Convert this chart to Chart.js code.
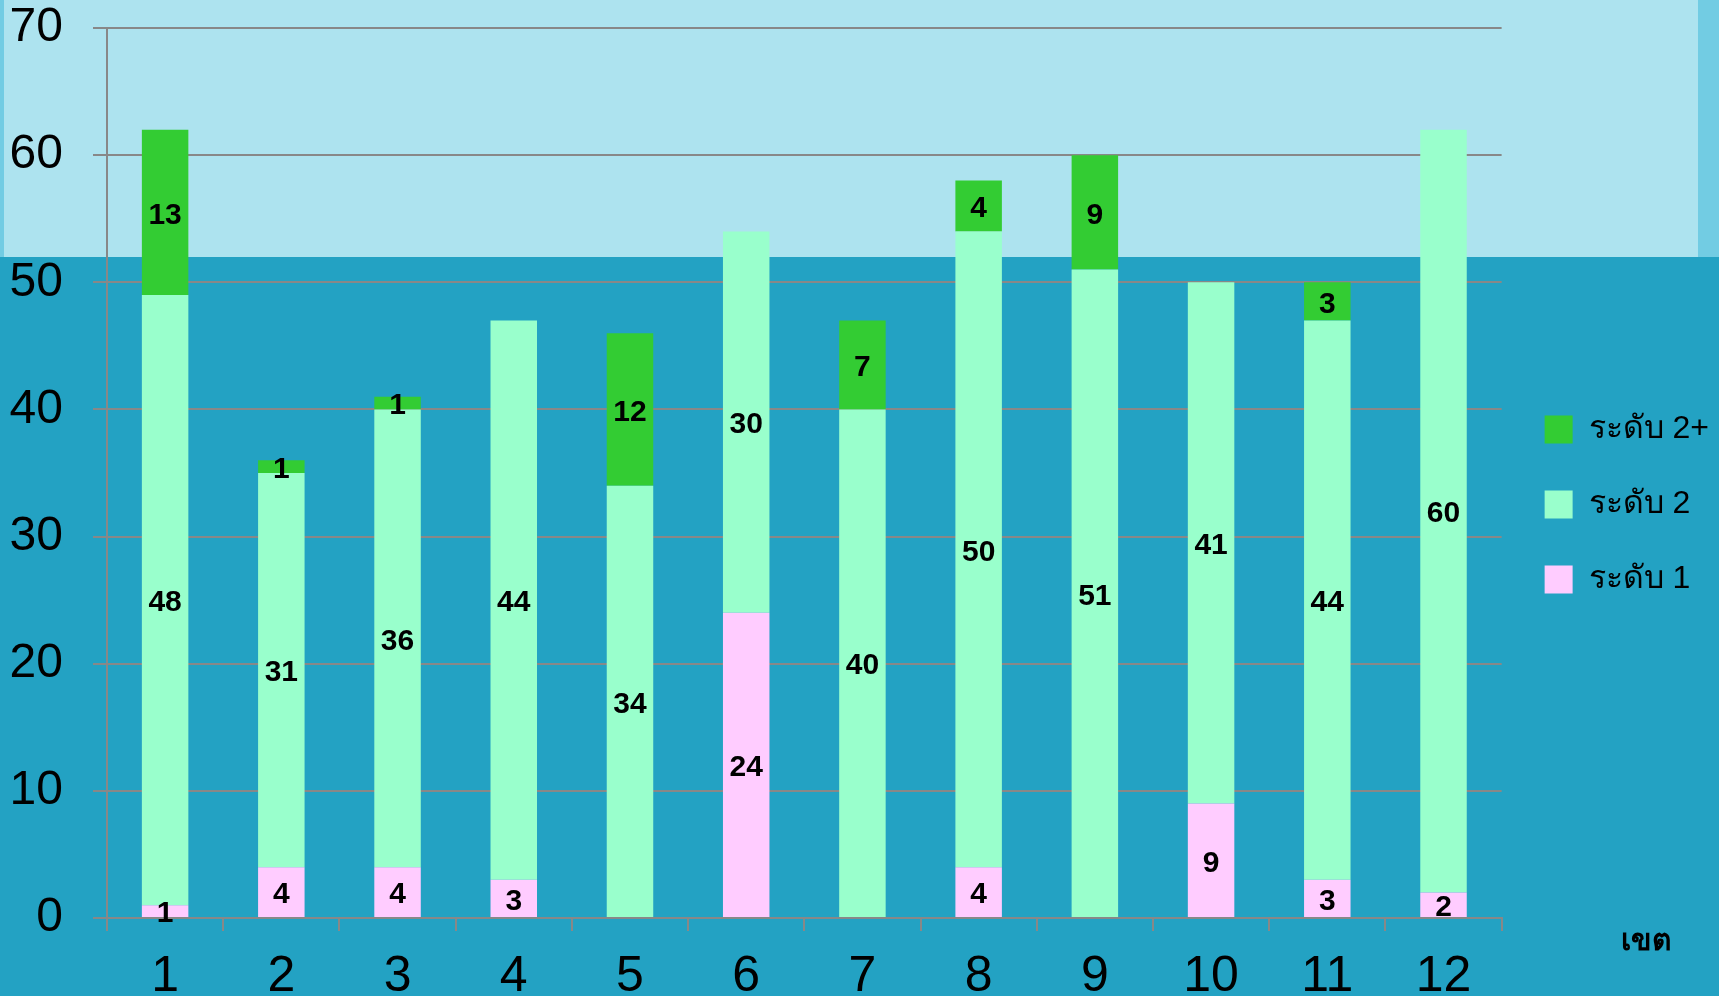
<!DOCTYPE html>
<html>
<head>
<meta charset="utf-8">
<script src="https://cdn.jsdelivr.net/npm/chart.js@4"></script>
<style>
  html, body { margin: 0; padding: 0; }
  body { width: 1719px; height: 996px; position: relative; overflow: hidden; background: #23a2c3; }
  .band { position: absolute; left: 0; top: 0; width: 1719px; height: 257px; background: #ade3ef; }
  .edge { position: absolute; top: 0; height: 257px; background: #72cce3; }
  #chart { position: absolute; left: 0; top: 0; }
</style>
</head>
<body>
<div class="band"></div>
<div class="edge" style="left:0;width:4px"></div>
<div class="edge" style="left:1698px;width:21px"></div>
<canvas id="chart" width="1719" height="996"></canvas>
<script>
// เขต 1-12
const districts = ["1", "2", "3", "4", "5", "6", "7", "8", "9", "10", "11", "12"];
const level1 = [1, 4, 4, 3, 0, 24, 0, 4, 0, 9, 3, 2];
const level2 = [48, 31, 36, 44, 34, 30, 40, 50, 51, 41, 44, 60];
const level2plus = [13, 1, 1, 0, 12, 0, 7, 4, 9, 0, 3, 0];
const yTicks = [0, 10, 20, 30, 40, 50, 60, 70];

const font = "'Liberation Sans', Arial, 'Noto Sans', sans-serif";

/* draws the number inside each segment, skips the zeros */
const segmentLabels = {
    id: "segmentLabels",
    afterDatasetsDraw(chart) {
        const ctx = chart.ctx;
        ctx.save();
        ctx.font = "bold 30px " + font;
        ctx.fillStyle = "#000";
        ctx.textAlign = "center";
        ctx.textBaseline = "middle";
        chart.data.datasets.forEach((ds, i) => {
            const meta = chart.getDatasetMeta(i);
            meta.data.forEach((bar, j) => {
                const v = ds.data[j];
                if (!v) return;
                ctx.fillText(String(v), bar.x, (bar.y + bar.base) / 2 + 3);
            });
        });
        ctx.restore();
    }
};

/* "เขต" under the right end of the axis */
const axisName = {
    id: "axisName",
    afterDraw(chart) {
        const ctx = chart.ctx;
        const a = chart.chartArea;
        ctx.save();
        ctx.font = "bold 30px " + font;
        ctx.fillStyle = "#000";
        ctx.textAlign = "left";
        ctx.textBaseline = "middle";
        ctx.fillText("เขต", a.right + 119, a.bottom + 24);
        ctx.restore();
    }
};

new Chart(document.getElementById("chart"), {
    type: "bar",
    data: {
        labels: districts,
        datasets: [
            { label: "ระดับ 1", data: level1, backgroundColor: "#ffccff" },
            { label: "ระดับ 2", data: level2, backgroundColor: "#99ffcc" },
            { label: "ระดับ 2+", data: level2plus, backgroundColor: "#33cc33" }
        ]
    },
    options: {
        responsive: false,
        animation: false,
        layout: { padding: 0 },
        datasets: {
            bar: { categoryPercentage: 0.8, barPercentage: 0.5, borderWidth: 0 }
        },
        plugins: {
            legend: {
                position: "right",
                reverse: true,
                // empty title only pushes the items down a little
                title: { display: true, text: " ", font: { size: 1 }, padding: { top: 12, bottom: 0 } },
                labels: {
                    font: { family: font, size: 32 },
                    color: "#000",
                    boxWidth: 28,
                    boxHeight: 28,
                    padding: 43
                }
            },
            tooltip: { enabled: false }
        },
        scales: {
            x: {
                stacked: true,
                afterFit(axis) {
                    axis.height = 78;
                },
                grid: {
                    offset: true,
                    drawOnChartArea: false,
                    color: "#888",
                    lineWidth: 2,
                    tickLength: 13
                },
                border: { color: "#888", width: 2 },
                ticks: {
                    font: { family: font, size: 50 },
                    color: "#000",
                    padding: 16,
                    maxRotation: 0
                }
            },
            y: {
                stacked: true,
                min: 0,
                max: 70,
                afterBuildTicks(axis) {
                    axis.ticks = yTicks.map(v => ({ value: v }));
                },
                afterFit(axis) {
                    axis.width = 107;
                    axis.paddingTop = 28;
                    axis.paddingBottom = 0;
                },
                grid: { color: "#888", lineWidth: 2, tickLength: 14 },
                border: { color: "#888", width: 2 },
                ticks: {
                    font: { family: font, size: 48 },
                    color: "#000",
                    padding: 30
                }
            }
        }
    },
    plugins: [segmentLabels, axisName]
});
</script>
</body>
</html>
